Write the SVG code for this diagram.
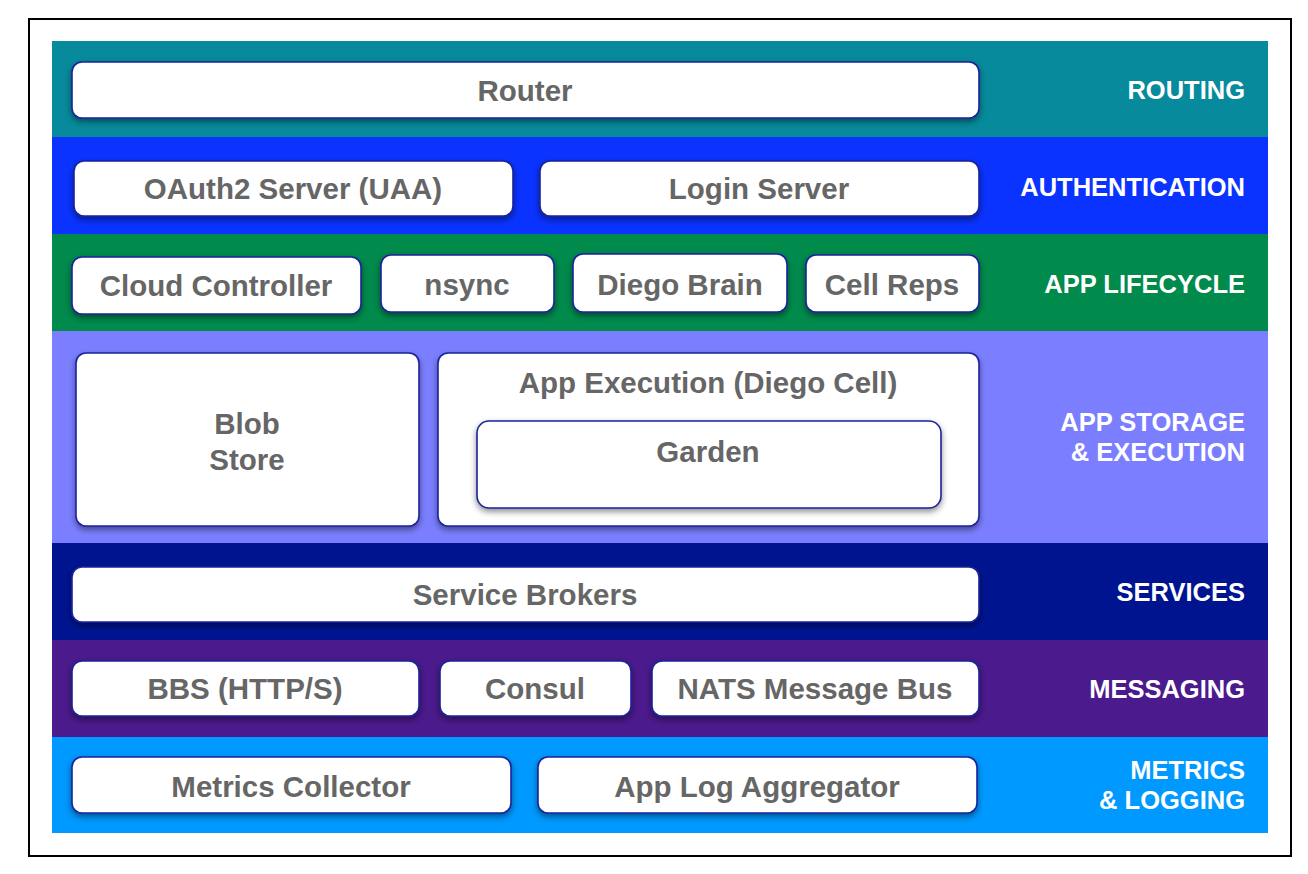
<svg xmlns="http://www.w3.org/2000/svg" width="1308" height="874" viewBox="0 0 1308 874">
<defs>
<filter id="sh" x="-10%" y="-30%" width="120%" height="170%">
<feDropShadow dx="0" dy="3" stdDeviation="3" flood-color="#000" flood-opacity="0.45"/>
</filter>
<style>
.box{fill:#fff;stroke:#1a239c;stroke-width:1.6;filter:url(#sh)}
.t{font-family:"Liberation Sans",Arial,sans-serif;font-weight:bold;font-size:29.5px;fill:#666;text-anchor:middle}
.l{font-family:"Liberation Sans",Arial,sans-serif;font-weight:bold;font-size:25.5px;fill:#fff;text-anchor:end}
</style>
</defs>
<rect width="1308" height="874" fill="#fff"/>
<rect x="29" y="19" width="1262" height="837" fill="#fff" stroke="#000" stroke-width="2"/>
<g id="bands">
<rect x="52" y="41" width="1216" height="97" fill="#078a9b"/>
<rect x="52" y="137" width="1216" height="98" fill="#0a33ff"/>
<rect x="52" y="234" width="1216" height="98" fill="#008a4c"/>
<rect x="52" y="331" width="1216" height="213" fill="#7b7fff"/>
<rect x="52" y="543" width="1216" height="98" fill="#001490"/>
<rect x="52" y="640" width="1216" height="98" fill="#4b1a8c"/>
<rect x="52" y="737" width="1216" height="96" fill="#0099ff"/>
</g>
<g id="labels">
<text class="l" x="1245" y="99">ROUTING</text>
<text class="l" x="1245" y="196">AUTHENTICATION</text>
<text class="l" x="1245" y="293">APP LIFECYCLE</text>
<text class="l" x="1245" y="431">APP STORAGE</text>
<text class="l" x="1245" y="461">&amp; EXECUTION</text>
<text class="l" x="1245" y="601">SERVICES</text>
<text class="l" x="1245" y="698">MESSAGING</text>
<text class="l" x="1245" y="779">METRICS</text>
<text class="l" x="1245" y="809">&amp; LOGGING</text>
</g>
<g id="router"><rect class="box" x="72" y="62" width="907" height="56" rx="10"/><text class="t" x="525" y="101">Router</text></g>
<g id="oauth2"><rect class="box" x="74" y="161" width="439" height="55" rx="10"/><text class="t" x="293" y="199">OAuth2 Server (UAA)</text></g>
<g id="login"><rect class="box" x="540" y="161" width="439" height="55" rx="10"/><text class="t" x="759" y="199">Login Server</text></g>
<g id="cloud-controller"><rect class="box" x="72" y="257" width="289" height="57" rx="10"/><text class="t" x="216" y="296">Cloud Controller</text></g>
<g id="nsync"><rect class="box" x="381" y="255" width="173" height="57" rx="10"/><text class="t" x="467" y="295">nsync</text></g>
<g id="diego-brain"><rect class="box" x="573" y="254" width="214" height="58" rx="10"/><text class="t" x="680" y="295">Diego Brain</text></g>
<g id="cell-reps"><rect class="box" x="806" y="255" width="173" height="57" rx="10"/><text class="t" x="892" y="295">Cell Reps</text></g>
<g id="blob-store"><rect class="box" x="76" y="353" width="343" height="173" rx="10"/><text class="t" x="247" y="434">Blob</text><text class="t" x="247" y="470">Store</text></g>
<g id="app-execution"><rect class="box" x="438" y="353" width="541" height="173" rx="10"/><text class="t" x="708" y="393">App Execution (Diego Cell)</text>
<g id="garden"><rect class="box" x="477" y="421" width="464" height="87" rx="12"/><text class="t" x="708" y="462">Garden</text></g></g>
<g id="service-brokers"><rect class="box" x="72" y="567" width="907" height="55" rx="10"/><text class="t" x="525" y="605">Service Brokers</text></g>
<g id="bbs"><rect class="box" x="72" y="661" width="347" height="55" rx="10"/><text class="t" x="245" y="699">BBS (HTTP/S)</text></g>
<g id="consul"><rect class="box" x="440" y="661" width="191" height="55" rx="10"/><text class="t" x="535" y="699">Consul</text></g>
<g id="nats"><rect class="box" x="652" y="661" width="327" height="55" rx="10"/><text class="t" x="815" y="699">NATS Message Bus</text></g>
<g id="metrics-collector"><rect class="box" x="72" y="757" width="439" height="56" rx="10"/><text class="t" x="291" y="797">Metrics Collector</text></g>
<g id="app-log-aggregator"><rect class="box" x="538" y="757" width="439" height="56" rx="10"/><text class="t" x="757" y="797">App Log Aggregator</text></g>
<g id="connectors"/>
</svg>
